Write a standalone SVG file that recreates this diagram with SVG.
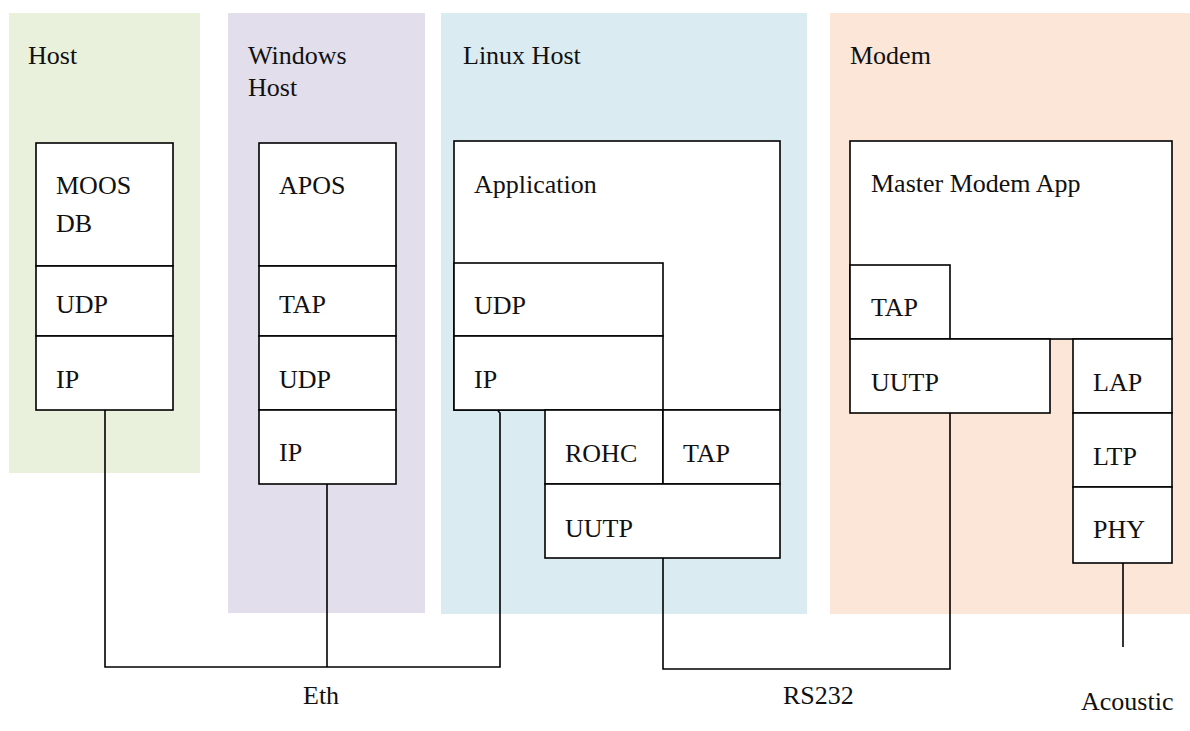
<svg xmlns="http://www.w3.org/2000/svg" width="1190" height="731" viewBox="0 0 1190 731" font-family="'Liberation Serif', 'Times New Roman', Times, serif" font-size="26">
  <style>
    .box { fill: #ffffff; stroke: #000000; stroke-width: 1.6; }
    .wire { fill: none; stroke: #000000; stroke-width: 1.6; }
    text { font-family: 'Liberation Serif', 'Times New Roman', Times, serif; font-size: 26px; fill: #111111; }
  </style>
  <rect width="1190" height="731" fill="#ffffff"/>

  <!-- host panels -->
  <g id="panel-host">
    <rect x="9" y="13" width="191" height="460" fill="#E9F0DC"/>
    <text x="28" y="64">Host</text>
  </g>
  <g id="panel-windows">
    <rect x="228" y="13" width="197" height="600" fill="#E3DEEB"/>
    <text x="248" y="64">Windows</text>
    <text x="248" y="96">Host</text>
  </g>
  <g id="panel-linux">
    <rect x="441" y="13" width="366" height="601" fill="#DAECF1"/>
    <text x="463" y="64">Linux Host</text>
  </g>
  <g id="panel-modem">
    <rect x="830" y="13" width="360" height="601" fill="#FBE6D8"/>
    <text x="850" y="64">Modem</text>
  </g>

  <!-- connectors -->
  <g id="connectors">
    <polyline class="wire" points="105,410 105,667 500,667 500,413 498,411"/>
    <line class="wire" x1="327" y1="484" x2="327" y2="667"/>
    <polyline class="wire" points="663,558 663,669 950,669 950,413"/>
    <line class="wire" x1="1123" y1="563" x2="1123" y2="647"/>
    <text x="303" y="704">Eth</text>
    <text x="783" y="704">RS232</text>
    <text x="1081" y="710">Acoustic</text>
  </g>

  <!-- Host stack -->
  <g id="moos-db">
    <rect class="box" x="36" y="143" width="137" height="123"/>
    <text x="56" y="194">MOOS</text>
    <text x="56" y="232">DB</text>
  </g>
  <g id="host-udp">
    <rect class="box" x="36" y="266" width="137" height="70"/>
    <text x="56" y="313">UDP</text>
  </g>
  <g id="host-ip">
    <rect class="box" x="36" y="336" width="137" height="74"/>
    <text x="56" y="388">IP</text>
  </g>

  <!-- Windows stack -->
  <g id="apos">
    <rect class="box" x="259" y="143" width="137" height="123"/>
    <text x="279" y="194">APOS</text>
  </g>
  <g id="win-tap">
    <rect class="box" x="259" y="266" width="137" height="70"/>
    <text x="279" y="313">TAP</text>
  </g>
  <g id="win-udp">
    <rect class="box" x="259" y="336" width="137" height="74"/>
    <text x="279" y="388">UDP</text>
  </g>
  <g id="win-ip">
    <rect class="box" x="259" y="410" width="137" height="74"/>
    <text x="279" y="461">IP</text>
  </g>

  <!-- Linux stack -->
  <g id="application">
    <rect class="box" x="454" y="141" width="326" height="269"/>
    <text x="474" y="193">Application</text>
  </g>
  <g id="linux-udp">
    <rect class="box" x="454" y="263" width="209" height="73"/>
    <text x="474" y="314">UDP</text>
  </g>
  <g id="linux-ip">
    <rect class="box" x="454" y="336" width="209" height="74"/>
    <text x="474" y="388">IP</text>
  </g>
  <g id="rohc">
    <rect class="box" x="545" y="410" width="118" height="74"/>
    <text x="565" y="462">ROHC</text>
  </g>
  <g id="linux-tap">
    <rect class="box" x="663" y="410" width="117" height="74"/>
    <text x="683" y="462">TAP</text>
  </g>
  <g id="linux-uutp">
    <rect class="box" x="545" y="484" width="235" height="74"/>
    <text x="565" y="537">UUTP</text>
  </g>

  <!-- Modem stack -->
  <g id="master-modem-app">
    <rect class="box" x="850" y="141" width="322" height="198"/>
    <text x="871" y="192">Master Modem App</text>
  </g>
  <g id="modem-tap">
    <rect class="box" x="850" y="265" width="100" height="74"/>
    <text x="871" y="316">TAP</text>
  </g>
  <g id="modem-uutp">
    <rect class="box" x="850" y="339" width="200" height="74"/>
    <text x="871" y="391">UUTP</text>
  </g>
  <g id="lap">
    <rect class="box" x="1073" y="339" width="99" height="74"/>
    <text x="1093" y="391">LAP</text>
  </g>
  <g id="ltp">
    <rect class="box" x="1073" y="413" width="99" height="74"/>
    <text x="1093" y="465">LTP</text>
  </g>
  <g id="phy">
    <rect class="box" x="1073" y="487" width="99" height="76"/>
    <text x="1093" y="538">PHY</text>
  </g>
</svg>
